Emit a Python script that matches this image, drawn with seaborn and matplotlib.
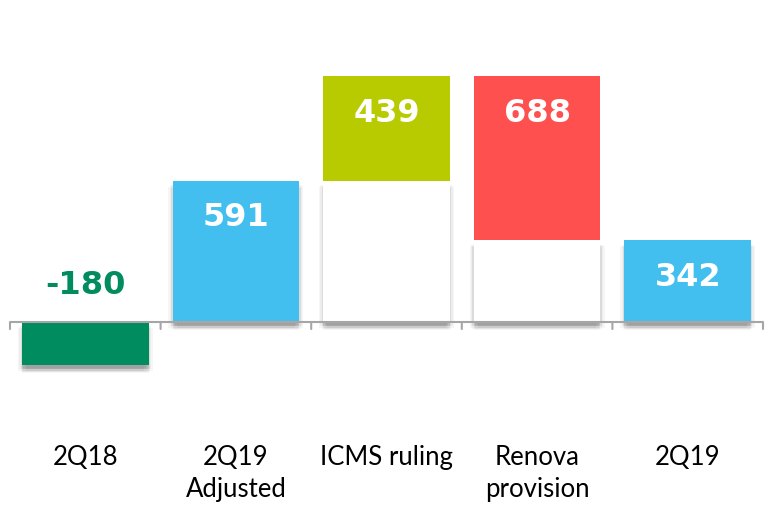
import numpy as np
import pandas as pd
import matplotlib
matplotlib.use("Agg")
import matplotlib.pyplot as plt
import matplotlib.patheffects as pe
import seaborn as sns

categories = ["2Q18", "2Q19\nAdjusted", "ICMS ruling", "Renova\nprovision", "2Q19"]
values = [-180, 591, 439, -688, 342]
kinds = ["total", "total", "delta", "delta", "total"]
colors = ["#008C5F", "#42BFEF", "#B8CB00", "#FF5050", "#42BFEF"]
labels = ["-180", "591", "439", "688", "342"]

# waterfall geometry from data
tops, bases = [], []
running = 0
for v, k in zip(values, kinds):
    if k == "total":
        running = v
        tops.append(v)
        bases.append(0)
    else:
        start = running
        running = running + v
        tops.append(max(start, running))
        bases.append(min(start, running))

df = pd.DataFrame({"cat": categories, "top": tops, "base": bases})

sns.set_theme(style="white")
fig = plt.figure(figsize=(7.69, 5.12), dpi=100)
ax = fig.add_axes([10/769, 1 - 445/512, 753/769, 415/512])

offs = [(0, -2), (0, -3), (0, -4), (-1, -3), (1, -3), (-2, -3), (2, -3),
        (-1, -5), (1, -5), (3, -4), (-3, -4), (0, -6)]
shadow = [pe.SimplePatchShadow(offset=o, shadow_rgbFace="#000000", alpha=0.035) for o in offs] + [pe.Normal()]

sns.barplot(data=df, x="cat", y="top", hue="cat", palette=colors, legend=False,
            width=0.84, saturation=1, ax=ax, linewidth=0)
n = len(categories)
for p, k in zip(ax.patches[:n], kinds):
    if k == "total":
        p.set_path_effects(shadow)

sns.barplot(data=df, x="cat", y="base", color="white", width=0.84, saturation=1,
            ax=ax, linewidth=0)
for p, k in zip(ax.patches[n:], kinds):
    if k == "delta":
        p.set_path_effects(shadow)

scale = 0.2386  # px per unit
ax.set_ylim(-(445 - 322) / scale, (322 - 30) / scale)
ax.set_xlim(-0.5, n - 0.5)

# zero axis line and boundary ticks
ax.axhline(0, color="#A6A6A6", lw=1.5, zorder=5)
for b in np.arange(-0.5, n, 1.0):
    ax.annotate("", xy=(b, 0), xytext=(0, -7), textcoords="offset pixels",
                arrowprops=dict(arrowstyle="-", color="#A6A6A6", lw=1.5,
                                shrinkA=0, shrinkB=0), zorder=5)

for s in ax.spines.values():
    s.set_visible(False)
ax.set_yticks([])
ax.set_xlabel("")
ax.set_ylabel("")
ax.set_xticks(range(n))
ax.set_xticklabels(categories, fontsize=18.5, fontfamily="Lato", color="#000000",
                   linespacing=1.35)
ax.tick_params(axis="x", length=0, pad=0)

for i, (v, k) in enumerate(zip(values, kinds)):
    if v < 0 and k == "total":
        ax.annotate(labels[i], xy=(i, 0), xytext=(0, 37), textcoords="offset pixels",
                    ha="center", va="center", fontsize=23, fontweight="bold",
                    fontfamily="DejaVu Sans", color=colors[i], zorder=6)
    else:
        ax.annotate(labels[i], xy=(i, tops[i]), xytext=(0, -37), textcoords="offset pixels",
                    ha="center", va="center", fontsize=23, fontweight="bold",
                    fontfamily="DejaVu Sans", color="white", zorder=6)

fig.savefig("out.png", dpi=100, facecolor="white")
